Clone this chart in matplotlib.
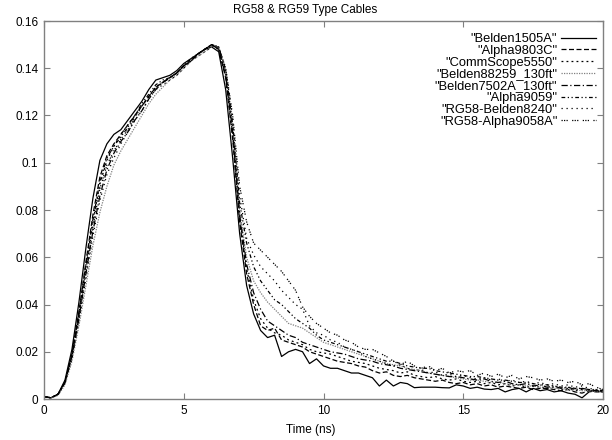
import matplotlib
matplotlib.use("Agg")
import matplotlib.pyplot as plt
from matplotlib.ticker import FormatStrFormatter, MultipleLocator

plt.rcParams["font.family"] = ["Liberation Sans", "DejaVu Sans"]

# common time base (ns), 0.25 ns step
time_ns = [i * 0.25 for i in range(81)]

belden1505a = [
    0.001, 0.0005, 0.002, 0.008, 0.021, 0.041, 0.064, 0.085, 0.101, 0.108, 0.112, 0.114, 0.118,
    0.122, 0.126, 0.131, 0.135, 0.136, 0.137, 0.139, 0.142, 0.144, 0.146, 0.148, 0.149,
    0.147, 0.131, 0.102, 0.070, 0.048, 0.036, 0.029, 0.026, 0.027, 0.018, 0.020, 0.021, 0.020,
    0.015, 0.017, 0.014,
    0.013, 0.013, 0.012, 0.011, 0.011, 0.010, 0.009, 0.0055, 0.008, 0.0055, 0.007, 0.0065, 0.0048,
    0.005, 0.005, 0.005, 0.0048, 0.0047, 0.006, 0.0055, 0.0045, 0.005, 0.0042, 0.004, 0.0045,
    0.003, 0.004, 0.0045, 0.003, 0.0045, 0.0035, 0.004, 0.003, 0.0035, 0.0025, 0.002, 0.0005,
    0.003, 0.0035, 0.003,
]
alpha9803c = [
    0.001, 0.0005, 0.002, 0.007, 0.019, 0.037, 0.058, 0.078, 0.094, 0.103, 0.108, 0.112, 0.116,
    0.120, 0.124, 0.128, 0.132, 0.134, 0.136, 0.138, 0.141, 0.143, 0.146, 0.148, 0.150,
    0.148, 0.136, 0.110, 0.075, 0.053, 0.040, 0.031, 0.029, 0.030, 0.025, 0.024, 0.023, 0.022,
    0.020, 0.019, 0.018,
    0.017, 0.016, 0.0155, 0.015, 0.014, 0.0135, 0.012, 0.011, 0.0115, 0.010, 0.0095, 0.010, 0.009,
    0.0085, 0.008, 0.0075, 0.008, 0.007, 0.0065, 0.007, 0.006, 0.0065, 0.0055, 0.006, 0.005,
    0.0055, 0.005, 0.0045, 0.005, 0.004, 0.0045, 0.0045, 0.004, 0.0035, 0.004, 0.003, 0.0025,
    0.0035, 0.003, 0.003,
]
commscope5550 = [
    0.001, 0.0005, 0.002, 0.007, 0.019, 0.036, 0.056, 0.075, 0.091, 0.101, 0.107, 0.112, 0.116,
    0.120, 0.124, 0.128, 0.132, 0.134, 0.136, 0.138, 0.141, 0.144, 0.146, 0.148, 0.150,
    0.148, 0.137, 0.112, 0.077, 0.055, 0.042, 0.034, 0.030, 0.028, 0.027, 0.025, 0.024, 0.023,
    0.021, 0.020, 0.0195,
    0.019, 0.018, 0.017, 0.016, 0.0155, 0.015, 0.014, 0.013, 0.0125, 0.012, 0.011, 0.0115, 0.010,
    0.0095, 0.009, 0.0095, 0.0085, 0.008, 0.0085, 0.0075, 0.007, 0.0075, 0.0065, 0.007, 0.006,
    0.0065, 0.0055, 0.006, 0.005, 0.0055, 0.005, 0.0045, 0.005, 0.004, 0.0045, 0.0035, 0.004,
    0.0035, 0.0035, 0.003,
]
belden88259 = [
    0.001, 0.0005, 0.0015, 0.006, 0.016, 0.031, 0.048, 0.065, 0.079, 0.090, 0.099, 0.105, 0.110,
    0.115, 0.120, 0.125, 0.129, 0.132, 0.135, 0.137, 0.140, 0.143, 0.145, 0.147, 0.149,
    0.149, 0.139, 0.115, 0.080, 0.060, 0.050, 0.045, 0.041, 0.038, 0.035, 0.032, 0.031, 0.030,
    0.028, 0.026, 0.024,
    0.023, 0.022, 0.021, 0.020, 0.019, 0.018, 0.017, 0.016, 0.015, 0.0145, 0.014, 0.013, 0.0125,
    0.012, 0.011, 0.0105, 0.010, 0.0095, 0.009, 0.0085, 0.008, 0.008, 0.0075, 0.007, 0.007,
    0.0065, 0.006, 0.006, 0.0055, 0.0055, 0.005, 0.005, 0.0045, 0.0045, 0.004, 0.004, 0.0035,
    0.0035, 0.003, 0.003,
]
belden7502a = [
    0.001, 0.0005, 0.002, 0.007, 0.018, 0.034, 0.053, 0.071, 0.086, 0.097, 0.104, 0.109, 0.113,
    0.118, 0.122, 0.127, 0.131, 0.134, 0.136, 0.138, 0.141, 0.143, 0.146, 0.148, 0.150,
    0.148, 0.137, 0.113, 0.078, 0.057, 0.045, 0.038, 0.033, 0.031, 0.029, 0.027, 0.026, 0.024,
    0.023, 0.022, 0.021,
    0.020, 0.0195, 0.019, 0.018, 0.017, 0.0165, 0.016, 0.015, 0.0145, 0.014, 0.013, 0.0125, 0.012,
    0.0115, 0.011, 0.0105, 0.010, 0.0095, 0.0095, 0.009, 0.0085, 0.008, 0.0085, 0.0075, 0.007,
    0.0075, 0.0065, 0.006, 0.0065, 0.0055, 0.006, 0.005, 0.0055, 0.0045, 0.005, 0.004, 0.0045,
    0.004, 0.0035, 0.0035,
]
alpha9059 = [
    0.001, 0.0005, 0.002, 0.007, 0.019, 0.036, 0.057, 0.076, 0.092, 0.102, 0.107, 0.111, 0.115,
    0.120, 0.125, 0.129, 0.133, 0.135, 0.136, 0.138, 0.141, 0.144, 0.146, 0.148, 0.150,
    0.149, 0.139, 0.116, 0.083, 0.066, 0.056, 0.050, 0.046, 0.042, 0.040, 0.037, 0.034, 0.032,
    0.030, 0.027, 0.025,
    0.024, 0.023, 0.022, 0.021, 0.020, 0.019, 0.018, 0.017, 0.016, 0.016, 0.015, 0.014, 0.0135,
    0.013, 0.013, 0.012, 0.0115, 0.011, 0.0105, 0.010, 0.0095, 0.0095, 0.009, 0.0085, 0.008,
    0.008, 0.0075, 0.007, 0.007, 0.0065, 0.006, 0.006, 0.0055, 0.005, 0.005, 0.0045, 0.0045,
    0.004, 0.004, 0.0035,
]
rg58_belden8240 = [
    0.001, 0.0005, 0.002, 0.007, 0.017, 0.033, 0.051, 0.069, 0.084, 0.095, 0.102, 0.108, 0.113,
    0.118, 0.122, 0.127, 0.131, 0.133, 0.135, 0.137, 0.140, 0.143, 0.145, 0.147, 0.149,
    0.149, 0.140, 0.118, 0.086, 0.068, 0.061, 0.056, 0.053, 0.050, 0.046, 0.043, 0.040, 0.038,
    0.031, 0.028, 0.027,
    0.025, 0.024, 0.022, 0.021, 0.020, 0.018, 0.017, 0.016, 0.015, 0.014, 0.0145, 0.013, 0.012,
    0.0125, 0.011, 0.0115, 0.010, 0.0105, 0.0095, 0.010, 0.009, 0.0085, 0.009, 0.008, 0.0085,
    0.0075, 0.008, 0.007, 0.0075, 0.0065, 0.007, 0.006, 0.0065, 0.0055, 0.006, 0.005, 0.0055,
    0.0045, 0.004, 0.0035,
]
rg58_alpha9058a = [
    0.001, 0.0005, 0.002, 0.007, 0.018, 0.035, 0.055, 0.073, 0.089, 0.099, 0.105, 0.110, 0.114,
    0.119, 0.124, 0.128, 0.132, 0.134, 0.136, 0.138, 0.141, 0.143, 0.146, 0.148, 0.150,
    0.149, 0.140, 0.120, 0.090, 0.075, 0.066, 0.063, 0.060, 0.057, 0.054, 0.050, 0.046, 0.039,
    0.035, 0.032, 0.030,
    0.028, 0.027, 0.025, 0.024, 0.022, 0.021, 0.021, 0.0195, 0.018, 0.016, 0.0145, 0.016, 0.014,
    0.013, 0.014, 0.012, 0.013, 0.011, 0.012, 0.0115, 0.012, 0.010, 0.011, 0.0095, 0.0105, 0.009,
    0.010, 0.0085, 0.0095, 0.009, 0.008, 0.0085, 0.0075, 0.008, 0.007, 0.0075, 0.006, 0.0065,
    0.005, 0.004,
]

labels = ['"Belden1505A"', '"Alpha9803C"', '"CommScope5550"', '"Belden88259_130ft"',
          '"Belden7502A_130ft"', '"Alpha9059"', '"RG58-Belden8240"', '"RG58-Alpha9058A"']
series = [belden1505a, alpha9803c, commscope5550, belden88259,
          belden7502a, alpha9059, rg58_belden8240, rg58_alpha9058a]

# gnuplot-like dash patterns
styles = [
    ("black", "-"),
    ("black", (0, (4, 2))),
    ("black", (0, (1.5, 2.5))),
    ("#808080", (0, (1, 1))),
    ("black", (0, (5, 2, 1, 2))),
    ("black", (0, (3, 2, 1, 2, 1, 2))),
    ("black", (0, (1, 3))),
    ("black", (0, (1, 1, 1, 1, 1, 3.5))),
]

fig = plt.figure(figsize=(6.12, 4.40), dpi=100)
ax = fig.add_axes([44 / 612, 41 / 440, 559 / 612, 378 / 440])

for y, lab, (col, ls) in zip(series, labels, styles):
    assert len(y) == len(time_ns), lab
    ax.plot(time_ns, y, color=col, linestyle=ls, linewidth=0.9, label=lab)

ax.set_xlim(0, 20)
ax.set_ylim(0, 0.16)
ax.xaxis.set_major_locator(MultipleLocator(5))
ax.yaxis.set_major_locator(MultipleLocator(0.02))
ax.xaxis.set_major_formatter(FormatStrFormatter("%g"))
ax.yaxis.set_major_formatter(FormatStrFormatter("%g"))
ax.tick_params(direction="in", top=True, right=True, length=4, width=0.8,
               color="#808080", labelsize=8.5, pad=4)
for sp in ax.spines.values():
    sp.set_color("#808080")
    sp.set_linewidth(1.0)

ax.set_title("RG58 & RG59 Type Cables", fontsize=8.5, pad=6, x=0.467)
ax.set_xlabel("Time (ns)", fontsize=8.5)
ax.xaxis.set_label_coords(0.478, -0.065)

ax.legend(loc="upper right", bbox_to_anchor=(0.9875, 0.968), frameon=False, markerfirst=False,
          fontsize=9.3, handlelength=2.7, handletextpad=0.3, labelspacing=-0.02,
          borderaxespad=0.0, borderpad=0.0)

fig.savefig("out.png", dpi=100)
